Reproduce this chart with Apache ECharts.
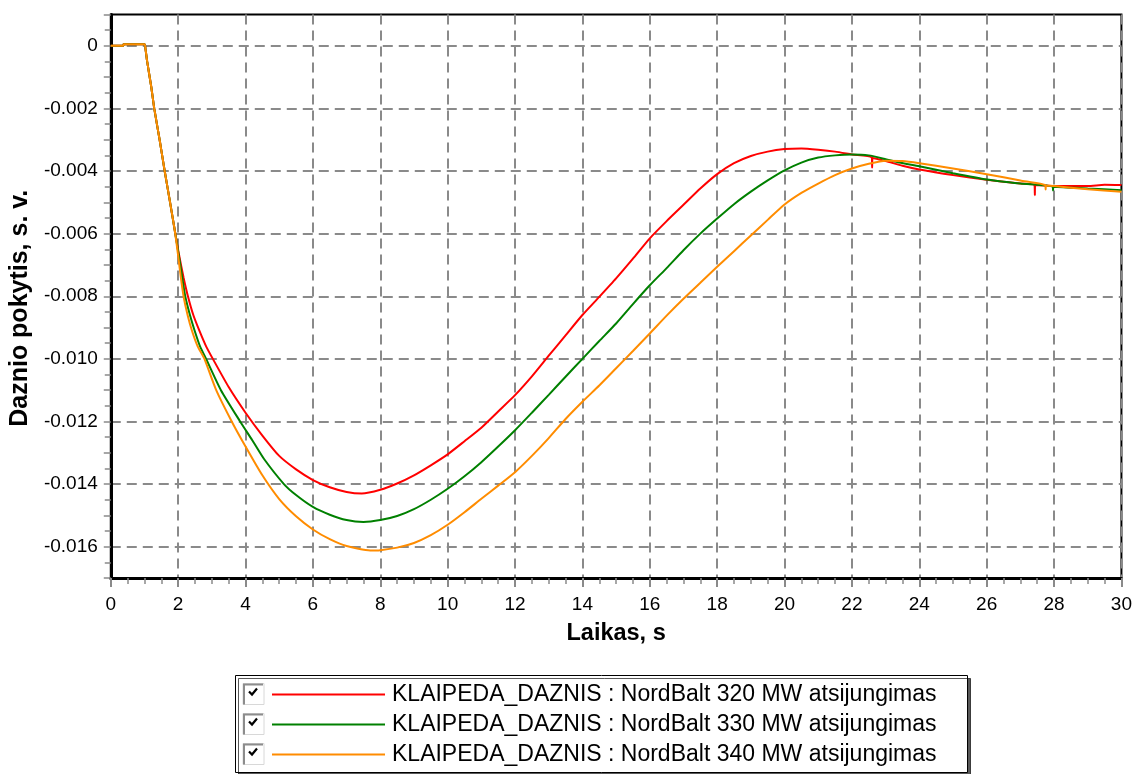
<!DOCTYPE html>
<html>
<head>
<meta charset="utf-8">
<script src="https://cdn.jsdelivr.net/npm/echarts@6/dist/echarts.min.js"></script>
<style>
html,body{margin:0;padding:0;background:#fff;}
#chart{width:1135px;height:774px;}
</style>
</head>
<body>
<div id="chart"></div>
<script>
// ---- data ----
var seriesNames = [
  'KLAIPEDA_DAZNIS : NordBalt 320 MW atsijungimas',
  'KLAIPEDA_DAZNIS : NordBalt 330 MW atsijungimas',
  'KLAIPEDA_DAZNIS : NordBalt 340 MW atsijungimas'
];
var seriesColors = ['#ff0000', '#008000', '#ff8c00'];
var xTicks = [0,2,4,6,8,10,12,14,16,18,20,22,24,26,28,30];
var yTicks = [0,-0.002,-0.004,-0.006,-0.008,-0.010,-0.012,-0.014,-0.016];

var commonStart = [[0,0],[0.37,0],[0.38,0.00005],[1.0,0.00005],[1.03,-0.0001],[1.08,-0.0005],[1.2,-0.0013],[1.29,-0.002],[1.45,-0.003],[1.6,-0.004],[1.76,-0.005],[1.9,-0.0059]];

var red320 = [[2.03,-0.0067],[2.16,-0.0074],[2.29,-0.008],[2.45,-0.0086],[2.63,-0.0091],[2.83,-0.0096],[3.03,-0.0100],[3.5,-0.0109],[4.0,-0.01172],[4.5,-0.01245],[5.0,-0.0131],[5.5,-0.01353],[6,-0.01387],[6.5,-0.0141],[7,-0.01425],[7.45,-0.0143],[8,-0.01418],[8.5,-0.01398],[9,-0.01372],[9.5,-0.0134],[10,-0.01305],[10.5,-0.01263],[11,-0.0122],[11.5,-0.01168],[12,-0.01116],[12.5,-0.01056],[13,-0.0099],[13.5,-0.00925],[14,-0.0086],[14.5,-0.00802],[15,-0.00743],[15.5,-0.0068],[16,-0.00615],[16.5,-0.0056],[17,-0.00508],[17.5,-0.00456],[18,-0.00410],[18.5,-0.00375],[19,-0.00352],[19.5,-0.00338],[20,-0.0033],[20.5,-0.00328],[21,-0.00332],[21.5,-0.00338],[22,-0.00347],[22.59,-0.00357],[22.6,-0.00389],[22.61,-0.00358],[23,-0.00368],[23.5,-0.00383],[24,-0.00395],[25,-0.00413],[26,-0.00428],[27,-0.0044],[27.42,-0.00445],[27.43,-0.00477],[27.44,-0.00445],[28,-0.00448],[29,-0.00448],[29.5,-0.00444],[30,-0.00445]];

var green330 = [[2.02,-0.0067],[2.12,-0.0074],[2.21,-0.008],[2.35,-0.0086],[2.49,-0.0091],[2.65,-0.0096],[2.83,-0.0100],[3.27,-0.0110],[3.84,-0.0120],[4.2,-0.0126],[4.55,-0.0132],[5.14,-0.0140],[5.5,-0.01435],[6,-0.01473],[6.5,-0.01498],[7,-0.01515],[7.5,-0.01521],[8,-0.01515],[8.5,-0.01502],[9,-0.0148],[9.5,-0.0145],[10,-0.01415],[10.5,-0.01375],[11,-0.0133],[11.5,-0.0128],[12,-0.01228],[12.5,-0.01172],[13,-0.01115],[13.5,-0.01057],[14,-0.0100],[14.5,-0.00943],[15,-0.00887],[15.5,-0.00825],[16,-0.00765],[16.5,-0.0071],[17,-0.00653],[17.5,-0.006],[18,-0.00552],[18.5,-0.00506],[19,-0.00466],[19.5,-0.0043],[20,-0.00398],[20.5,-0.00373],[21,-0.00357],[21.5,-0.0035],[22,-0.00347],[22.5,-0.0035],[23,-0.00362],[23.4,-0.00373],[24,-0.00385],[25,-0.00407],[26,-0.00427],[27,-0.0044],[27.96,-0.0045],[27.97,-0.00462],[27.98,-0.0045],[29,-0.00456],[30,-0.00461]];

var orange340 = [[2.0,-0.0067],[2.08,-0.0074],[2.16,-0.008],[2.28,-0.0086],[2.41,-0.0091],[2.58,-0.0096],[2.78,-0.0100],[3.13,-0.0110],[3.59,-0.0120],[4,-0.0128],[4.5,-0.01372],[5,-0.01448],[5.5,-0.01503],[6,-0.01545],[6.5,-0.01576],[7,-0.01598],[7.7,-0.01612],[8,-0.01611],[8.5,-0.01603],[9,-0.01588],[9.5,-0.01563],[10,-0.0153],[10.5,-0.0149],[11,-0.01447],[11.5,-0.01405],[12,-0.01362],[12.5,-0.0131],[13,-0.01253],[13.5,-0.01192],[14,-0.01137],[14.5,-0.01085],[15,-0.0103],[15.5,-0.00975],[16,-0.00919],[16.5,-0.00862],[17,-0.00808],[17.5,-0.00757],[18,-0.00706],[18.5,-0.00656],[19,-0.00606],[19.5,-0.00556],[20,-0.00507],[20.5,-0.0047],[21,-0.0044],[21.5,-0.00413],[22,-0.00392],[22.5,-0.00377],[23,-0.00367],[23.5,-0.00368],[24,-0.00375],[25,-0.00392],[26,-0.0041],[27,-0.0043],[27.74,-0.00445],[27.75,-0.00459],[27.76,-0.00446],[28,-0.00448],[29,-0.00458],[30,-0.00466]];

var seriesData = [commonStart.concat(red320), commonStart.concat(green330), commonStart.concat(orange340)];

// ---- chart ----
var FONT = '"Liberation Sans", Arial, sans-serif';
var chart = echarts.init(document.getElementById('chart'), null, {renderer: 'canvas'});
var gridColor = '#8a8a8a';

function checkbox(cy) {
  return [
    {type: 'rect', shape: {x: 243, y: cy - 11, width: 21, height: 21}, style: {fill: '#ffffff', stroke: '#d8d8d8', lineWidth: 1}, z: 10},
    {type: 'polyline', shape: {points: [[244, cy + 10], [244, cy - 10], [263, cy - 10]]}, style: {stroke: '#8c8c8c', lineWidth: 2, fill: null}, z: 11},
    {type: 'polyline', shape: {points: [[249, cy - 3], [252, cy], [257, cy - 6]]}, style: {stroke: '#000', lineWidth: 2.2, fill: null}, z: 11}
  ];
}

var graphics = [
  {type: 'rect', shape: {x: 235.5, y: 675.5, width: 732, height: 97}, style: {fill: '#fff', stroke: '#000', lineWidth: 1, shadowColor: 'rgba(0,0,0,0.65)', shadowOffsetX: 3, shadowOffsetY: 3, shadowBlur: 0}, z: 1}
].concat(checkbox(694.5), checkbox(724.5), checkbox(754.5));

var option = {
  animation: false,
  backgroundColor: '#ffffff',
  textStyle: {fontFamily: FONT},
  grid: {left: 106, right: 11, top: 14.5, bottom: 196, show: true, borderColor: '#000', borderWidth: 2, backgroundColor: 'transparent'},
  legend: {
    orient: 'vertical', left: 272, top: 683, height: 90, padding: 0, itemWidth: 113, itemHeight: 2, itemGap: 7,
    icon: 'rect', selectedMode: false, data: seriesNames, z: 20,
    textStyle: {fontSize: 23, color: '#000', fontFamily: FONT, padding: [0, 0, 0, 2]}
  },
  xAxis: {
    type: 'value', min: 0, max: 30, interval: 2,
    name: 'Laikas, s', nameLocation: 'middle', nameGap: 44,
    nameTextStyle: {fontSize: 23.5, fontWeight: 'bold', color: '#000', fontFamily: FONT},
    axisLine: {show: true, onZero: false, lineStyle: {color: '#000', width: 3}},
    axisTick: {show: true, inside: false, length: 9, lineStyle: {color: gridColor, width: 2}},
    minorTick: {show: true, splitNumber: 4, length: 6, lineStyle: {color: gridColor, width: 1.5}},
    axisLabel: {fontSize: 19, color: '#000', margin: 17, fontFamily: FONT,
      formatter: function (v) { return xTicks.indexOf(Math.round(v)) >= 0 ? String(Math.round(v)) : ''; }},
    splitLine: {show: true, lineStyle: {color: gridColor, width: 2, type: [10, 6]}}
  },
  yAxis: {
    type: 'value', min: -0.017, max: 0.001, interval: 0.001,
    name: 'Daznio pokytis, s. v.', nameLocation: 'middle', nameGap: 74, nameRotate: 90,
    nameTextStyle: {fontSize: 25, fontWeight: 'bold', color: '#000', fontFamily: FONT, padding: [0, 24, 0, 0]},
    axisLine: {show: true, onZero: false, lineStyle: {color: '#000', width: 3}},
    axisTick: {show: true, inside: false, length: 7, lineStyle: {color: gridColor, width: 1.5}},
    minorTick: {show: true, splitNumber: 2, length: 6, lineStyle: {color: gridColor, width: 1.5}},
    axisLabel: {fontSize: 19, color: '#000', margin: 13, fontFamily: FONT,
      formatter: function (v) {
        var k = Math.round(v * 1000);
        for (var i = 0; i < yTicks.length; i++) {
          if (Math.round(yTicks[i] * 1000) === k) return k === 0 ? '0' : (k / 1000).toFixed(3);
        }
        return '';
      }},
    splitLine: {show: true, lineStyle: {color: ['rgba(0,0,0,0)', gridColor], width: 2, type: [10, 6]}}
  },
  graphic: graphics,
  series: seriesNames.map(function (n, i) {
    return {
      name: n, type: 'line', data: seriesData[i], showSymbol: false, symbol: 'none',
      lineStyle: {color: seriesColors[i], width: 2}, itemStyle: {color: seriesColors[i]},
      smooth: 0.2, z: 3 + i, clip: true
    };
  })
};
chart.setOption(option);
</script>
</body>
</html>
